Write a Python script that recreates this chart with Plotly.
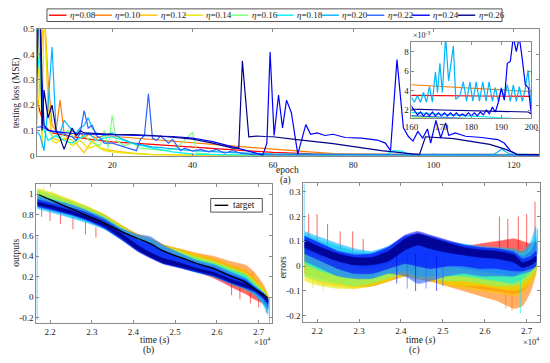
import plotly.graph_objects as go

W, H = 550, 363
def PX(x): return x / W
def PY(y): return 1 - y / H

# ---------------- data ----------------
eta_labels = ['0.08', '0.10', '0.12', '0.14', '0.16', '0.18', '0.20', '0.22', '0.24', '0.26']
colors = ['#FF0000', '#FF7A00', '#FFC400', '#E6E600', '#7CFF7C',
          '#00F0F0', '#00B4FF', '#2C64FF', '#0000FF', '#00008C']

# panel (a): testing loss per epoch
loss08_x = [1, 2, 3, 5, 10, 15, 20, 30, 40, 50, 60, 70, 80, 100, 130, 160, 200]
loss08_y = [0.23, 0.17, 0.12, 0.09, 0.075, 0.064, 0.055, 0.045, 0.034, 0.023, 0.013, 0.007, 0.005, 0.0042, 0.0037, 0.0035, 0.0034]
loss10_x = [1, 2, 3, 4, 5, 6, 7, 8, 9, 10, 11, 12, 13, 14, 16, 18, 20, 26, 33, 40, 50, 60, 70, 76, 90, 130, 160, 200]
loss10_y = [0.3, 0.6, 0.6, 0.3, 0.12, 0.1, 0.22, 0.09, 0.07, 0.1, 0.075, 0.095, 0.07, 0.085, 0.07, 0.08, 0.077, 0.069, 0.06, 0.05, 0.038, 0.026, 0.014, 0.007, 0.0055, 0.005, 0.0046, 0.0039]
loss12_x = [1, 2, 3, 4, 5, 7, 9, 11, 12, 13, 15, 17, 20, 25, 30, 40, 200]
loss12_y = [0.075, 0.3, 0.6, 0.2, 0.07, 0.06, 0.07, 0.05, 0.03, 0.012, 0.06, 0.03, 0.02, 0.01, 0.004, 0.001, 0.0005]
loss14_x = [1, 2, 2.5, 3, 4, 5, 6, 8, 10, 12, 14, 16, 18, 20, 25, 30, 200]
loss14_y = [0.1, 0.5, 0.03, 0.6, 0.25, 0.06, 0.05, 0.07, 0.04, 0.06, 0.03, 0.04, 0.02, 0.015, 0.008, 0.004, 0.0005]
loss16_x = [1, 1.5, 2, 3, 5, 7, 9, 11, 13, 15, 17, 18, 19, 20, 21, 23, 25, 27, 30, 33, 36, 38, 40, 41, 45, 60, 200]
loss16_y = [0.5, 0.6, 0.3, 0.12, 0.08, 0.07, 0.1, 0.06, 0.08, 0.05, 0.04, 0.1, 0.03, 0.16, 0.06, 0.04, 0.05, 0.03, 0.025, 0.02, 0.03, 0.06, 0.093, 0.01, 0.004, 0.002, 0.001]
loss18_x = [1, 2, 3, 4, 6, 8, 10, 12, 14, 16, 18, 20, 23, 26, 30, 35, 40, 50, 88, 90, 92, 94, 200]
loss18_y = [0.3, 0.41, 0.1, 0.06, 0.08, 0.06, 0.05, 0.07, 0.09, 0.06, 0.07, 0.075, 0.06, 0.045, 0.03, 0.015, 0.006, 0.003, 0.003, 0.02, 0.018, 0.003, 0.001]
loss20_x = [1, 2, 3, 4, 5, 6, 7, 8, 9, 10, 11, 12, 13, 14, 15, 16, 18, 20, 22, 25, 30, 40, 50, 60, 80, 115, 117, 119, 130, 150,
            160, 161, 162, 163, 164, 165, 166, 167, 168, 168.7, 169.5, 170.3, 171.4, 172.4, 174, 174.8, 176.2, 177.3, 178.4, 179.5,
            180.5, 181.6, 182.7, 183.8, 184.9, 185.9, 187, 188, 189, 190, 191, 192, 193, 194, 195, 196, 197, 198, 198.9, 200]
loss20_y = [0.1, 0.08, 0.02, 0.2, 0.43, 0.1, 0.09, 0.14, 0.12, 0.1, 0.09, 0.11, 0.12, 0.15, 0.11, 0.09, 0.08, 0.09, 0.07, 0.05, 0.035, 0.02, 0.012, 0.007, 0.005, 0.005, 0.026, 0.006, 0.004, 0.0035,
            0.0033, 0.0028, 0.0035, 0.0028, 0.0038, 0.0028, 0.0044, 0.0028, 0.0059, 0.0038, 0.0068, 0.0038, 0.0095, 0.005, 0.0086, 0.0031, 0.0035, 0.0049, 0.0029, 0.0049,
            0.0029, 0.0049, 0.0029, 0.0049, 0.0029, 0.0049, 0.0029, 0.0043, 0.0029, 0.0043, 0.0033, 0.0046, 0.0029, 0.0046, 0.0029, 0.0044, 0.0029, 0.0042, 0.0061, 0.0022]
loss22_x = [1, 2, 3, 5, 7, 9, 10, 11, 12, 13, 14, 15, 16, 17, 18, 20, 22, 24, 26, 27, 28, 29, 30, 31, 32, 33, 34, 35, 36, 37, 38, 40, 42, 44, 46, 48, 50, 52, 55, 60, 200]
loss22_y = [0.11, 0.115, 0.11, 0.095, 0.09, 0.08, 0.075, 0.06, 0.09, 0.178, 0.11, 0.12, 0.08, 0.07, 0.05, 0.05, 0.04, 0.03, 0.02, 0.065, 0.08, 0.245, 0.07, 0.06, 0.078, 0.065, 0.05, 0.065, 0.04, 0.02, 0.03, 0.018, 0.025, 0.015, 0.025, 0.01, 0.02, 0.01, 0.004, 0.003, 0.0008]
loss24_x = [1, 1.5, 2, 2.5, 3, 4, 6, 8, 10, 15, 20, 25, 30, 35, 40, 45, 50, 55, 57.5, 58.5, 59.3, 60.3, 61.4, 62.4, 63.4, 64.6, 66.2, 68.2, 69.4, 71, 73, 75, 78, 82, 86, 88, 89.3, 90.9, 91.7, 92.5, 93.7, 94.9, 96.1, 97.3, 98.5, 99.3, 100.6, 101.8, 103, 103.8, 105.4, 108, 112, 116, 117.6, 119.2, 121, 127, 150,
            160, 161, 162, 163, 164, 165, 166, 167, 168, 169, 170, 171, 172, 173, 174, 175, 176, 177, 178, 179, 180, 181, 182, 183, 184, 185, 186, 187, 188, 189, 190, 191, 192, 193, 194, 195, 196, 197, 198, 199, 200]
loss24_y = [0.12, 0.5, 0.6, 0.3, 0.12, 0.1, 0.095, 0.09, 0.088, 0.085, 0.083, 0.082, 0.08, 0.076, 0.07, 0.056, 0.035, 0.012, 0.003, 0.05, 0.41, 0.08, 0.24, 0.11, 0.22, 0.17, 0.006, 0.123, 0.085, 0.09, 0.08, 0.085, 0.072, 0.07, 0.062, 0.05, 0.02, 0.38, 0.24, 0.11, 0.077, 0.058, 0.096, 0.07, 0.106, 0.05, 0.14, 0.07, 0.13, 0.08, 0.09, 0.077, 0.072, 0.064, 0.05, 0.019, 0.004, 0.002, 0.002,
            0.0024, 0.0019, 0.0015, 0.0018, 0.0014, 0.0017, 0.0014, 0.0018, 0.0014, 0.0017, 0.0014, 0.0017, 0.0014, 0.0017, 0.0014, 0.0017, 0.0014, 0.0016, 0.0014, 0.0017, 0.0014, 0.0017, 0.0014, 0.0018, 0.0015, 0.002, 0.0016, 0.0023, 0.0018, 0.0028, 0.0042, 0.003, 0.0068, 0.007, 0.0095, 0.008, 0.0095, 0.0072, 0.0046, 0.0043, 0.0016]
loss26_x = [1, 1.5, 2, 2.5, 3, 4, 5, 6, 7, 8, 9, 10, 11, 12, 13, 15, 20, 25, 30, 35, 40, 45, 50, 51.5, 52.4, 54, 56, 58, 60, 66, 75, 87, 96.5, 98, 105, 114, 118, 121, 127, 160, 170, 190, 199, 200]
loss26_y = [0.23, 0.6, 0.6, 0.1, 0.26, 0.15, 0.2, 0.1, 0.07, 0.025, 0.07, 0.11, 0.08, 0.1, 0.09, 0.088, 0.085, 0.084, 0.08, 0.073, 0.066, 0.05, 0.03, 0.03, 0.375, 0.075, 0.078, 0.076, 0.075, 0.064, 0.048, 0.02, 0.004, 0.075, 0.068, 0.045, 0.025, 0.004, 0.003, 0.0021, 0.002, 0.0019, 0.0018, 0.0016]

loss_x = [loss08_x, loss10_x, loss12_x, loss14_x, loss16_x, loss18_x, loss20_x, loss22_x, loss24_x, loss26_x]
loss_y = [loss08_y, loss10_y, loss12_y, loss14_y, loss16_y, loss18_y, loss20_y, loss22_y, loss24_y, loss26_y]

# panels (b)/(c): time grid, target, error envelopes (low / high) per eta
time_s = [21700, 22100, 22500, 22900, 23300, 23700, 24100, 24400, 24700, 25100, 25500, 25900, 26300, 26700, 26900, 27100, 27220]
target = [1.0, 0.93, 0.86, 0.79, 0.72, 0.64, 0.57, 0.52, 0.45, 0.39, 0.33, 0.28, 0.21, 0.14, 0.08, 0.03, -0.01]

err08_lo = [-0.03, -0.05, -0.07, -0.08, -0.08, -0.06, -0.04, -0.05, -0.06, -0.07, -0.08, -0.09, -0.1, -0.11, -0.1, -0.06, -0.02]
err08_hi = [0.09, 0.07, 0.05, 0.04, 0.04, 0.07, 0.11, 0.12, 0.11, 0.09, 0.08, 0.09, 0.1, 0.11, 0.1, 0.09, 0.1]
err10_lo = [-0.02, -0.05, -0.07, -0.08, -0.08, -0.06, -0.04, -0.05, -0.06, -0.08, -0.1, -0.12, -0.14, -0.17, -0.16, -0.1, -0.03]
err10_hi = [0.08, 0.06, 0.04, 0.03, 0.03, 0.06, 0.1, 0.11, 0.1, 0.08, 0.07, 0.07, 0.07, 0.07, 0.06, 0.05, 0.05]
err12_lo = [-0.04, -0.07, -0.08, -0.09, -0.08, -0.06, -0.04, -0.05, -0.06, -0.08, -0.09, -0.1, -0.11, -0.12, -0.11, -0.07, -0.03]
err12_hi = [0.07, 0.05, 0.03, 0.02, 0.02, 0.05, 0.09, 0.1, 0.09, 0.07, 0.05, 0.04, 0.03, 0.02, 0.01, 0.01, 0.03]
err14_lo = [-0.06, -0.08, -0.09, -0.09, -0.08, -0.06, -0.04, -0.05, -0.06, -0.07, -0.08, -0.08, -0.09, -0.1, -0.09, -0.06, -0.02]
err14_hi = [0.06, 0.04, 0.03, 0.02, 0.02, 0.05, 0.09, 0.1, 0.09, 0.07, 0.06, 0.04, 0.03, 0.02, 0.02, 0.02, 0.04]
err16_lo = [-0.04, -0.06, -0.07, -0.08, -0.07, -0.05, -0.03, -0.05, -0.05, -0.06, -0.06, -0.07, -0.08, -0.08, -0.07, -0.04, -0.01]
err16_hi = [0.08, 0.06, 0.04, 0.03, 0.03, 0.06, 0.1, 0.11, 0.1, 0.08, 0.07, 0.05, 0.04, 0.03, 0.03, 0.03, 0.05]
err18_lo = [0.01, -0.02, -0.04, -0.05, -0.05, -0.03, -0.02, -0.04, -0.04, -0.04, -0.04, -0.05, -0.06, -0.07, -0.05, -0.02, 0.0]
err18_hi = [0.13, 0.1, 0.08, 0.06, 0.055, 0.075, 0.11, 0.12, 0.11, 0.095, 0.085, 0.075, 0.07, 0.06, 0.05, 0.08, 0.12]
err20_lo = [0.06, 0.04, 0.02, 0.0, -0.01, 0.01, 0.02, 0.0, 0.0, 0.0, -0.01, -0.02, -0.03, -0.04, -0.02, 0.02, 0.05]
err20_hi = [0.14, 0.115, 0.09, 0.07, 0.06, 0.08, 0.12, 0.13, 0.12, 0.1, 0.09, 0.08, 0.075, 0.07, 0.06, 0.1, 0.16]
err22_lo = [0.02, -0.01, -0.04, -0.05, -0.05, -0.03, -0.04, -0.07, -0.06, -0.04, -0.03, -0.04, -0.04, -0.04, -0.03, -0.02, 0.0]
err22_hi = [0.12, 0.09, 0.06, 0.05, 0.05, 0.08, 0.12, 0.13, 0.12, 0.1, 0.085, 0.075, 0.07, 0.06, 0.04, 0.06, 0.1]
err24_lo = [0.05, 0.02, -0.01, -0.03, -0.03, -0.01, 0.01, 0.0, -0.01, 0.0, 0.0, -0.01, -0.01, -0.02, -0.02, -0.01, 0.0]
err24_hi = [0.12, 0.09, 0.06, 0.045, 0.05, 0.075, 0.125, 0.14, 0.125, 0.105, 0.085, 0.075, 0.07, 0.055, 0.03, 0.04, 0.06]
err26_lo = [0.075, 0.045, 0.02, 0.005, 0.005, 0.02, 0.065, 0.085, 0.07, 0.055, 0.045, 0.035, 0.03, 0.015, -0.005, 0.005, 0.02]
err26_hi = [0.105, 0.075, 0.05, 0.035, 0.035, 0.06, 0.11, 0.13, 0.115, 0.095, 0.075, 0.065, 0.06, 0.045, 0.015, 0.025, 0.04]

err_lo = [err08_lo, err10_lo, err12_lo, err14_lo, err16_lo, err18_lo, err20_lo, err22_lo, err24_lo, err26_lo]
err_hi = [err08_hi, err10_hi, err12_hi, err14_hi, err16_hi, err18_hi, err20_hi, err22_hi, err24_hi, err26_hi]

# isolated streaks (spikes) seen in the noisy traces: time, low, high, series index
streak_err_t = [21690, 21800, 21900, 22000, 22150, 22250, 22450, 22550, 22700, 22850, 23100, 23900, 24150, 24350, 24600, 24850, 25000, 26350, 26500, 26550, 26650, 26800, 26850, 27000, 27200, 27260]
streak_err_lo = [0.1, 0.06, -0.09, 0.05, -0.1, 0.04, -0.09, 0.03, -0.08, 0.02, 0.02, -0.07, -0.09, -0.1, -0.09, -0.1, -0.08, 0.05, -0.17, 0.05, -0.18, 0.05, -0.19, 0.05, 0.05, 0.05]
streak_err_hi = [0.33, 0.21, 0.0, 0.21, -0.01, 0.17, -0.02, 0.14, 0.0, 0.14, 0.11, 0.05, 0.05, 0.05, 0.05, 0.04, 0.04, 0.2, -0.05, 0.19, -0.05, 0.2, -0.05, 0.21, 0.26, 0.15]
streak_err_s = [6, 0, 3, 0, 3, 0, 3, 0, 4, 0, 0, 8, 7, 8, 7, 8, 7, 0, 1, 0, 1, 0, 5, 0, 0, 6]

streak_out_t = [21690, 21800, 21850, 22000, 22050, 22250, 22550, 22850, 23100, 25700, 26000, 26350, 26500, 26550, 26800, 26850, 27000, 27200, 27260]
streak_out_lo = [-0.22, 0.78, 0.95, 0.74, 0.9, 0.71, 0.66, 0.61, 0.58, 0.3, 0.25, 0.02, 0.2, -0.02, -0.06, 0.12, -0.1, -0.15, -0.25]
streak_out_hi = [0.6, 0.93, 1.08, 0.89, 1.03, 0.84, 0.78, 0.73, 0.68, 0.4, 0.35, 0.16, 0.3, 0.13, 0.09, 0.25, 0.05, -0.01, 0.0]
streak_out_s = [6, 0, 3, 0, 3, 0, 0, 0, 0, 1, 1, 0, 1, 0, 0, 1, 0, 0, 6]

epoch_ticks = [20, 40, 60, 80, 100, 120]
loss_ticks = [0, 0.1, 0.2, 0.3, 0.4, 0.5]
inset_xticks = [160, 170, 180, 190, 200]
inset_yticks = [0.002, 0.004, 0.006, 0.008]
inset_ytext = ['2', '4', '6', '8']
time_ticks = [22000, 23000, 24000, 25000, 26000, 27000]
time_text = ['2.2', '2.3', '2.4', '2.5', '2.6', '2.7']
out_ticks = [-0.2, 0, 0.2, 0.4, 0.6, 0.8, 1]
out_text = ['-0.2', '0', '0.2', '0.4', '0.6', '0.8', '1']
errax_ticks = [-0.2, -0.1, 0, 0.1, 0.2, 0.3]
errax_text = ['-0.2', '-0.1', '0', '0.1', '0.2', '0.3']

# ---------------- figure ----------------
FONT = 'Liberation Serif'
fig = go.Figure()

for i in range(10):
    fig.add_trace(go.Scatter(x=loss_x[i], y=loss_y[i], mode='lines', xaxis='x', yaxis='y',
                             line=dict(color=colors[i], width=1.2), showlegend=False, hoverinfo='skip'))
for i in range(10):
    fig.add_trace(go.Scatter(x=loss_x[i], y=loss_y[i], mode='lines', xaxis='x2', yaxis='y2',
                             line=dict(color=colors[i], width=1.2), showlegend=False, hoverinfo='skip'))

def band(xs, lo, hi, color, xa, ya, op):
    fig.add_trace(go.Scatter(x=list(xs) + list(xs)[::-1], y=list(hi) + list(lo)[::-1],
                             mode='lines', fill='toself', fillcolor=color, opacity=op,
                             line=dict(color=color, width=0.5, shape='spline', smoothing=0.5),
                             xaxis=xa, yaxis=ya, showlegend=False, hoverinfo='skip'))

def streaks(ts, lo, hi, ser, idx, xa, ya):
    sx, sy = [], []
    for t, a, b, s in zip(ts, lo, hi, ser):
        if s == idx:
            sx += [t, t, None]
            sy += [a, b, None]
    if sx:
        fig.add_trace(go.Scatter(x=sx, y=sy, mode='lines', line=dict(color=colors[idx], width=1),
                                 xaxis=xa, yaxis=ya, showlegend=False, hoverinfo='skip', opacity=0.6))

for i in range(10):
    op = 0.9 if i == 9 else 0.6
    out_hi = [t - e for t, e in zip(target, err_lo[i])]
    out_lo = [t - e for t, e in zip(target, err_hi[i])]
    band(time_s, out_lo, out_hi, colors[i], 'x3', 'y3', op)
    band(time_s, err_lo[i], err_hi[i], colors[i], 'x4', 'y4', op)
    streaks(streak_out_t, streak_out_lo, streak_out_hi, streak_out_s, i, 'x3', 'y3')
    streaks(streak_err_t, streak_err_lo, streak_err_hi, streak_err_s, i, 'x4', 'y4')

fig.add_trace(go.Scatter(x=time_s, y=target, mode='lines', xaxis='x3', yaxis='y3',
                         line=dict(color='black', width=1.3, shape='spline'), showlegend=False, hoverinfo='skip'))

tickfont = dict(family=FONT, size=9, color='#222')
ax = dict(showline=True, linecolor='#8a8a8a', linewidth=1, mirror='ticks', ticks='inside',
          ticklen=3, tickcolor='#8a8a8a', showgrid=False, zeroline=False, tickfont=tickfont)

fig.update_layout(
    width=W, height=H, margin=dict(l=0, r=0, t=0, b=0),
    paper_bgcolor='white', plot_bgcolor='white', showlegend=False,
    xaxis=dict(ax, domain=[PX(31), PX(546)], range=[1.3, 126.3], tickvals=epoch_ticks, anchor='y'),
    yaxis=dict(ax, domain=[PY(155), PY(25)], range=[0, 0.5], tickvals=loss_ticks,
               ticktext=['0', '0.1', '0.2', '0.3', '0.4', '0.5'], anchor='x'),
    xaxis2=dict(ax, domain=[PX(415), PX(538)], range=[160, 200], tickvals=inset_xticks, anchor='y2'),
    yaxis2=dict(ax, domain=[PY(116), PY(38)], range=[0.0012, 0.009], tickvals=inset_yticks,
                ticktext=inset_ytext, anchor='x2'),
    xaxis3=dict(ax, domain=[PX(30), PX(272)], range=[21670, 27320], tickvals=time_ticks, ticktext=time_text, anchor='y3'),
    yaxis3=dict(ax, domain=[PY(327), PY(184)], range=[-0.25, 1.1], tickvals=out_ticks, ticktext=out_text, anchor='x3'),
    xaxis4=dict(ax, domain=[PX(304), PX(547)], range=[21670, 27320], tickvals=time_ticks, ticktext=time_text, anchor='y4'),
    yaxis4=dict(ax, domain=[PY(326), PY(183)], range=[-0.225, 0.335], tickvals=errax_ticks, ticktext=errax_text, anchor='x4'),
)

# white background for inset
fig.add_shape(type='rect', xref='x2', yref='y2', x0=160, x1=200, y0=0.0012, y1=0.009,
              fillcolor='white', line=dict(width=0), layer='below')

shapes = []
annos = []
def txt(x, y, s, size=9, angle=0, xanchor='center'):
    annos.append(dict(x=PX(x), y=PY(y), xref='paper', yref='paper', text=s, showarrow=False,
                      font=dict(family=FONT, size=size, color='#222'), textangle=angle, xanchor=xanchor, yanchor='middle'))

# top legend
shapes.append(dict(type='rect', xref='paper', yref='paper', x0=PX(41), x1=PX(508), y0=PY(17), y1=PY(4),
                   line=dict(color='#555', width=1), fillcolor='white'))
for i in range(10):
    x0 = 43 + i * 46.6
    shapes.append(dict(type='line', xref='paper', yref='paper', x0=PX(x0), x1=PX(x0 + 18), y0=PY(10.5), y1=PY(10.5),
                       line=dict(color=colors[i], width=1.4)))
    txt(x0 + 19.5, 10.5, '<i>η</i>=' + eta_labels[i], size=9, xanchor='left')

# target legend in (b)
shapes.append(dict(type='rect', xref='paper', yref='paper', x0=PX(209), x1=PX(262), y0=PY(213), y1=PY(199),
                   line=dict(color='#555', width=1), fillcolor='white'))
shapes.append(dict(type='line', xref='paper', yref='paper', x0=PX(213), x1=PX(227), y0=PY(206), y1=PY(206),
                   line=dict(color='black', width=1.4)))
txt(230, 206, 'target', size=9.5, xanchor='left')

txt(10, 90, 'testing loss (MSE)', size=9.5, angle=-90)
txt(288, 170, 'epoch', size=9.5)
txt(286, 180, '(a)', size=9.5)
txt(425, 31, '×10<sup>-3</sup>', size=8)
txt(9, 255, 'outputs', size=9.5, angle=-90)
txt(151, 345, 'time (<i>s</i>)', size=9.5)
txt(145, 355, '(b)', size=9.5)
txt(262, 346, '×10<sup>4</sup>', size=8.5)
txt(283, 270, 'errors', size=9.5, angle=-90)
txt(424, 345, 'time (<i>s</i>)', size=9.5)
txt(418, 355, '(c)', size=9.5)
txt(538, 346, '×10<sup>4</sup>', size=8.5)

fig.update_layout(shapes=list(fig.layout.shapes) + shapes, annotations=annos)
fig.write_html('out.html', config={'displayModeBar': False},
               post_script="document.body.style.margin='0';document.body.style.padding='0';document.body.style.overflow='hidden';")
